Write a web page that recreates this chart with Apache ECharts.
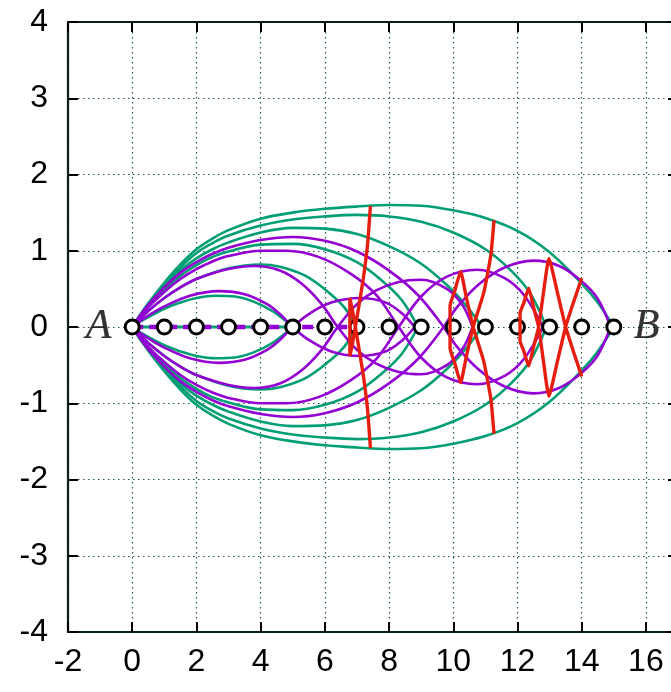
<!DOCTYPE html>
<html>
<head>
<meta charset="utf-8">
<script src="https://cdn.jsdelivr.net/npm/echarts/dist/echarts.min.js"></script>
<style>
  html, body { margin: 0; padding: 0; background: #ffffff; }
  #chart { width: 671px; height: 692px; }
</style>
</head>
<body>
<div id="chart"></div>
<script>
// Axis tick values
const xTicks = [-2, 0, 2, 4, 6, 8, 10, 12, 14, 16];
const yTicks = [-4, -3, -2, -1, 0, 1, 2, 3, 4];

// Stations along the axis (A = 0, B = 15)
const stations = [0, 1, 2, 3, 4, 5, 6, 7, 8, 9, 10, 11, 12, 13, 14, 15];

// Green rays, launched upward
const gUp1 = [[0,0],[0.25,0.07],[0.5,0.13],[1,0.24],[1.5,0.32],[2,0.38],[2.6,0.41],[3.2,0.4],[3.8,0.33],[4.4,0.2],[5,0]];
const gUp2 = [[0,0],[0.25,0.11],[0.5,0.21],[1,0.38],[1.5,0.52],[2,0.63],[3,0.77],[4,0.82],[4.6,0.79],[5.4,0.67],[6.1,0.46],[6.6,0.26],[7,0]];
const gUp3 = [[0,0],[0.25,0.14],[0.5,0.27],[1,0.49],[1.5,0.67],[2,0.81],[2.5,0.92],[3,0.99],[4,1.08],[5,1.09],[6,1.02],[7,0.85],[7.8,0.6],[8.4,0.35],[8.9,0]];
const gUp4 = [[0,0],[0.25,0.15],[0.5,0.29],[1,0.53],[1.5,0.74],[2,0.9],[2.5,1.02],[3,1.11],[4,1.24],[5,1.3],[6,1.29],[7,1.22],[8,1.06],[9,0.83],[9.8,0.55],[10.4,0.28],[10.9,0]];
const gUp5 = [[0,0],[0.25,0.16],[0.5,0.3],[1,0.56],[1.5,0.78],[2,0.97],[2.5,1.1],[3,1.2],[4,1.33],[5,1.41],[6,1.45],[7,1.47],[8,1.45],[9,1.38],[10,1.24],[11,1.02],[11.8,0.74],[12.4,0.44],[12.9,0]];
const gUp6 = [[0,0],[0.25,0.16],[0.5,0.31],[1,0.58],[1.5,0.82],[2,1.02],[2.5,1.16],[3,1.27],[4,1.42],[5,1.5],[6,1.55],[7,1.58],[8,1.6],[9,1.59],[10,1.53],[11,1.43],[12,1.26],[13,0.98],[14,0.57],[14.5,0.32],[15,0]];

// Green rays, launched downward
const gDn1 = [[0,0],[0.25,-0.07],[0.5,-0.13],[1,-0.24],[1.5,-0.32],[2,-0.38],[2.6,-0.41],[3.2,-0.4],[3.8,-0.33],[4.4,-0.2],[5,0]];
const gDn2 = [[0,0],[0.25,-0.11],[0.5,-0.21],[1,-0.38],[1.5,-0.52],[2,-0.63],[3,-0.77],[4,-0.82],[4.6,-0.79],[5.4,-0.67],[6.1,-0.46],[6.6,-0.26],[7,0]];
const gDn3 = [[0,0],[0.25,-0.14],[0.5,-0.27],[1,-0.49],[1.5,-0.67],[2,-0.81],[2.5,-0.92],[3,-0.99],[4,-1.08],[5,-1.09],[6,-1.02],[7,-0.85],[7.8,-0.6],[8.4,-0.35],[8.9,0]];
const gDn4 = [[0,0],[0.25,-0.15],[0.5,-0.29],[1,-0.53],[1.5,-0.74],[2,-0.9],[2.5,-1.02],[3,-1.11],[4,-1.24],[5,-1.3],[6,-1.29],[7,-1.22],[8,-1.06],[9,-0.83],[9.8,-0.55],[10.4,-0.28],[10.9,0]];
const gDn5 = [[0,0],[0.25,-0.16],[0.5,-0.3],[1,-0.56],[1.5,-0.78],[2,-0.97],[2.5,-1.1],[3,-1.2],[4,-1.33],[5,-1.41],[6,-1.45],[7,-1.47],[8,-1.45],[9,-1.38],[10,-1.24],[11,-1.02],[11.8,-0.74],[12.4,-0.44],[12.9,0]];
const gDn6 = [[0,0],[0.25,-0.16],[0.5,-0.31],[1,-0.58],[1.5,-0.82],[2,-1.02],[2.5,-1.16],[3,-1.27],[4,-1.42],[5,-1.5],[6,-1.55],[7,-1.58],[8,-1.6],[9,-1.59],[10,-1.53],[11,-1.43],[12,-1.26],[13,-0.98],[14,-0.57],[14.5,-0.32],[15,0]];

// Purple rays, launched upward (they cross the axis once)
const pUp1 = [[0,0],[0.25,0.08],[0.5,0.15],[1,0.27],[1.8,0.41],[2.7,0.47],[3.5,0.43],[4.2,0.3],[4.6,0.17],[5,0],[5.5,-0.17],[6.2,-0.32],[7.1,-0.38],[7.9,-0.32],[8.4,-0.18],[8.8,0]];
const pUp2 = [[0,0],[0.25,0.11],[0.5,0.21],[1,0.38],[1.5,0.52],[2,0.63],[3,0.76],[3.8,0.8],[4.6,0.74],[5.3,0.56],[5.9,0.3],[6.4,0],[7.0,-0.3],[7.6,-0.48],[8.3,-0.59],[9.0,-0.62],[9.8,-0.5],[10.3,-0.28],[10.6,0]];
const pUp3 = [[0,0],[0.25,0.14],[0.5,0.26],[1,0.46],[1.5,0.63],[2,0.76],[2.5,0.86],[3,0.93],[4,1.0],[4.8,1.0],[5.8,0.92],[6.8,0.7],[7.6,0.42],[8.3,0],[9.0,-0.4],[9.8,-0.66],[10.75,-0.75],[11.6,-0.64],[12.2,-0.42],[12.8,0]];
const pUp4 = [[0,0],[0.25,0.15],[0.5,0.29],[1,0.52],[1.5,0.71],[2,0.85],[2.5,0.96],[3,1.04],[4,1.14],[5,1.18],[6,1.13],[7,0.99],[8,0.74],[8.9,0.42],[9.7,0],[10.1,-0.25],[10.8,-0.56],[11.6,-0.78],[12.5,-0.87],[13.3,-0.8],[14,-0.6],[14.5,-0.37],[14.9,0]];

// Purple rays, launched downward
const pDn1 = [[0,0],[0.25,-0.08],[0.5,-0.15],[1,-0.27],[1.8,-0.41],[2.7,-0.47],[3.5,-0.43],[4.2,-0.3],[4.6,-0.17],[5,0],[5.5,0.17],[6.2,0.32],[7.1,0.38],[7.9,0.32],[8.4,0.18],[8.8,0]];
const pDn2 = [[0,0],[0.25,-0.11],[0.5,-0.21],[1,-0.38],[1.5,-0.52],[2,-0.63],[3,-0.76],[3.8,-0.8],[4.6,-0.74],[5.3,-0.56],[5.9,-0.3],[6.4,0],[7.0,0.3],[7.6,0.48],[8.3,0.59],[9.0,0.62],[9.8,0.5],[10.3,0.28],[10.6,0]];
const pDn3 = [[0,0],[0.25,-0.14],[0.5,-0.26],[1,-0.46],[1.5,-0.63],[2,-0.76],[2.5,-0.86],[3,-0.93],[4,-1.0],[4.8,-1.0],[5.8,-0.92],[6.8,-0.7],[7.6,-0.42],[8.3,0],[9.0,0.4],[9.8,0.66],[10.75,0.75],[11.6,0.64],[12.2,0.42],[12.8,0]];
const pDn4 = [[0,0],[0.25,-0.15],[0.5,-0.29],[1,-0.52],[1.5,-0.71],[2,-0.85],[2.5,-0.96],[3,-1.04],[4,-1.14],[5,-1.18],[6,-1.13],[7,-0.99],[8,-0.74],[8.9,-0.42],[9.7,0],[10.1,0.25],[10.8,0.56],[11.6,0.78],[12.5,0.87],[13.3,0.8],[14,0.6],[14.5,0.37],[14.9,0]];

// Rays running along the axis itself
const axialGreen = [[0,0],[5,0]];
const axialPurple = [[0,0],[7,0]];

// Wavefronts (red): each folds back on itself in swallowtails near the axis
const wave1 = [[7.42,1.59],[7.33,1.08],[7.2,0.64],[7.05,0.25],[6.95,0],[6.86,-0.22],[6.78,-0.38],[6.78,0.38],[6.86,0.22],[6.95,0],[7.05,-0.25],[7.2,-0.64],[7.33,-1.08],[7.42,-1.59]];
const wave2 = [[11.27,1.4],[11.17,0.94],[10.95,0.45],[10.62,0],[10.4,-0.4],[10.23,-0.73],[10.05,-0.48],[9.9,-0.28],[9.9,0.28],[10.05,0.48],[10.23,0.73],[10.4,0.4],[10.62,0],[10.95,-0.45],[11.17,-0.94],[11.27,-1.4]];
const wave3 = [[14.0,0.64],[13.75,0.33],[13.5,0],[13.25,-0.44],[12.98,-0.91],[12.8,-0.42],[12.66,0],[12.5,0.26],[12.35,0.51],[12.2,0.32],[12.08,0.18],[12.08,-0.18],[12.2,-0.32],[12.35,-0.51],[12.5,-0.26],[12.66,0],[12.8,0.42],[12.98,0.9],[13.25,0.44],[13.5,0],[13.75,-0.33],[14.0,-0.65]];

// Endpoint labels
const endLabels = [{ name: 'A', x: -1.05 }, { name: 'B', x: 16.02 }];

const GREEN = '#009e73';
const PURPLE = '#9400d3';
const RED = '#e51e10';

function ray(data, color) {
  return {
    type: 'line', data: data, showSymbol: false, symbol: 'none',
    smooth: 0.35, lineStyle: { color: color, width: 2.6 }, z: 2, silent: true
  };
}
function front(data) {
  return {
    type: 'line', data: data, showSymbol: false, symbol: 'none',
    smooth: 0.15, lineStyle: { color: RED, width: 3.4 }, z: 6, silent: true
  };
}

const series = [];
[gUp6, gDn6, gUp5, gDn5, gUp4, gDn4, gUp3, gDn3, gUp2, gDn2, gUp1, gDn1].forEach(d => series.push(ray(d, GREEN)));
[pUp4, pDn4, pUp3, pDn3, pUp2, pDn2, pUp1, pDn1].forEach(d => series.push(ray(d, PURPLE)));
series.push({ type: 'line', data: axialGreen, symbol: 'none', lineStyle: { color: GREEN, width: 3 }, z: 2 });
series.push({ type: 'line', data: axialPurple, symbol: 'none', lineStyle: { color: PURPLE, width: 4.5, type: [11, 6] }, z: 3 });
series.push({
  type: 'scatter', data: stations.map(s => [s, 0]), symbol: 'circle', symbolSize: 14,
  itemStyle: { color: '#ffffff', borderColor: '#000000', borderWidth: 3, opacity: 1 }, z: 5, silent: true
});
[wave1, wave2, wave3].forEach(d => series.push(front(d)));
series.push({
  type: 'scatter', data: endLabels.map(e => ({ value: [e.x, 0], name: e.name })),
  symbolSize: 0, z: 7, silent: true, itemStyle: { color: '#000' },
  label: {
    show: true, position: 'inside', formatter: p => p.name,
    fontFamily: 'Liberation Serif', fontStyle: 'italic', fontSize: 42, color: '#000',
    textBorderColor: '#000', textBorderWidth: 0.2
  }
});

const gridLine = { show: true, lineStyle: { color: '#1f5a4a', type: [1.5, 3.5], width: 1.2 } };
const axisFont = { fontFamily: 'Liberation Sans', fontSize: 32, color: '#000' };
const frame = { show: true, onZero: false, lineStyle: { color: '#0a1f18', width: 2.2 } };
const ticks = { show: true, inside: true, length: 10, lineStyle: { color: '#000', width: 2 } };

const chart = echarts.init(document.getElementById('chart'), null, { renderer: 'canvas' });
chart.setOption({
  animation: false,
  backgroundColor: '#ffffff',
  grid: { left: 68, top: 22, width: 610, height: 610, containLabel: false, outerBoundsMode: 'none' },
  xAxis: [
    {
      type: 'value', min: -2, max: 17, interval: 2, position: 'bottom',
      axisLine: frame, axisTick: ticks,
      axisLabel: { ...axisFont, margin: 14, formatter: v => xTicks.includes(v) ? String(v) : '' },
      splitLine: gridLine
    },
    {
      type: 'value', min: -2, max: 17, interval: 2, position: 'top',
      axisLine: frame, axisTick: ticks, axisLabel: { show: false }, splitLine: { show: false }
    }
  ],
  yAxis: [
    {
      type: 'value', min: -4, max: 4, interval: 1, position: 'left',
      axisLine: frame, axisTick: ticks,
      axisLabel: { ...axisFont, margin: 20, formatter: v => yTicks.includes(v) ? String(v) : '' },
      splitLine: gridLine
    },
    {
      type: 'value', min: -4, max: 4, interval: 1, position: 'right',
      axisLine: frame, axisTick: ticks, axisLabel: { show: false }, splitLine: { show: false }
    }
  ],
  series: series
});
</script>
</body>
</html>
